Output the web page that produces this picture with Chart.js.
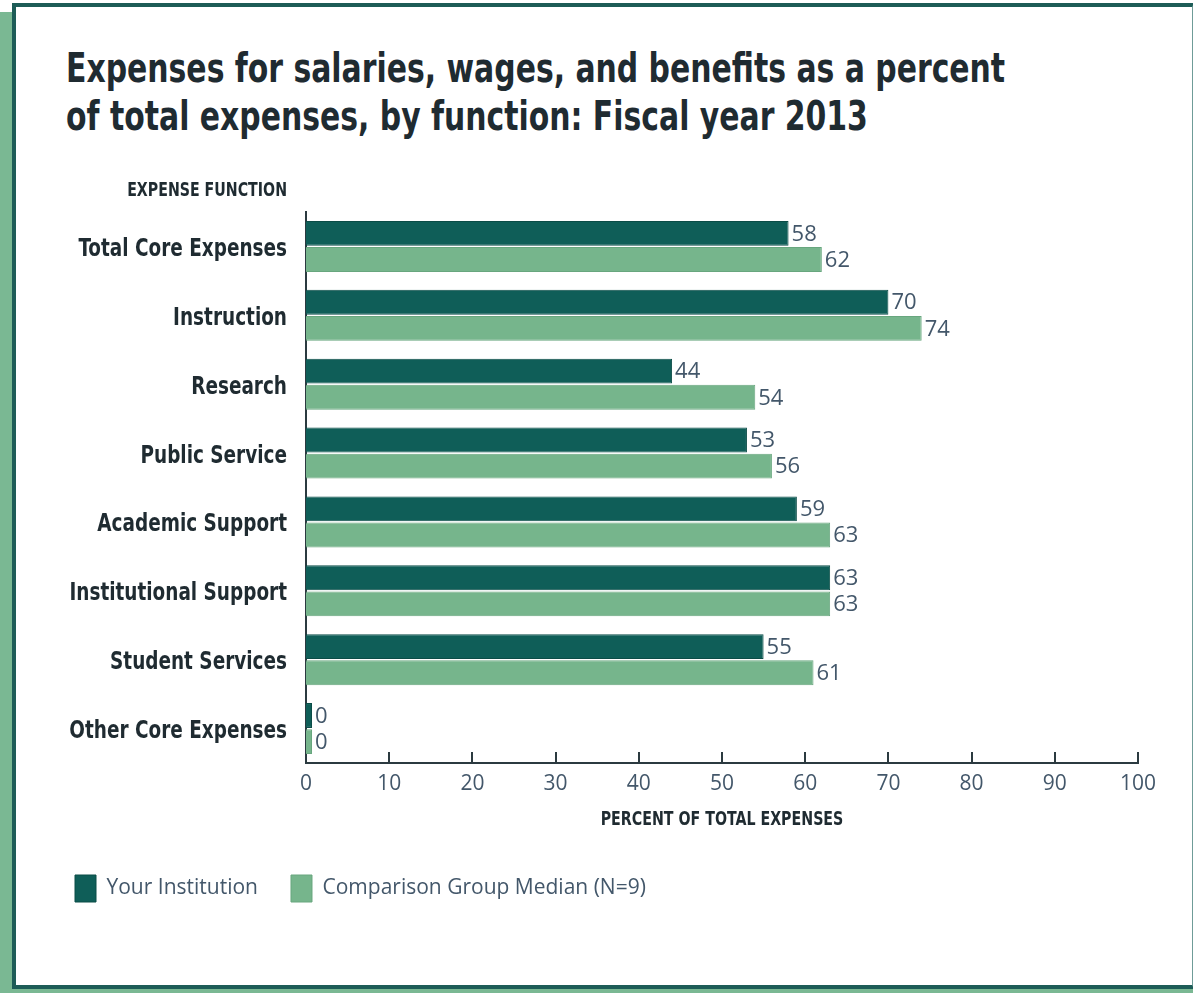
<!DOCTYPE html>
<html>
<head>
<meta charset="utf-8">
<script src="https://cdn.jsdelivr.net/npm/chart.js@4"></script>
<style>
  html, body { margin: 0; padding: 0; background: #fff; }
  #wrap { position: relative; width: 1193px; height: 993px; overflow: hidden; }
  .shadowL { position: absolute; left: 0; top: 12px; width: 13px; height: 981px; background: #7ab893; }
  .shadowB { position: absolute; left: 0; top: 985px; width: 1193px; height: 8px; background: #7ab893; }
  .frame { position: absolute; left: 12px; top: 3px; width: 1176px; height: 978px;
           border-left: 4px solid #1d5c57; border-top: 4px solid #1d5c57; border-bottom: 4px solid #1d5c57;
           border-right: 2px solid #6f9c98; background: #fff; }
  h1 { position: absolute; left: 66px; top: 44px; margin: 0; font-family: "DejaVu Sans Condensed", sans-serif;
       font-weight: bold; font-size: 40px; line-height: 48px; color: #1f2b31; white-space: nowrap;
       transform: scaleX(0.83); transform-origin: 0 0; }
  canvas { position: absolute; left: 0; top: 0; }
</style>
</head>
<body>
<div id="wrap">
  <div class="shadowL"></div>
  <div class="shadowB"></div>
  <div class="frame"></div>
  <h1>Expenses for salaries, wages, and benefits as a percent<br>of total expenses, by function: Fiscal year 2013</h1>
  <canvas id="chart" width="1193" height="993"></canvas>
</div>
<script>
const categories = ["Total Core Expenses", "Instruction", "Research", "Public Service",
  "Academic Support", "Institutional Support", "Student Services", "Other Core Expenses"];
const yourInstitution = [58, 70, 44, 53, 59, 63, 55, 0];
const comparisonMedian = [62, 74, 54, 56, 63, 63, 61, 0];
const xTicks = [0, 10, 20, 30, 40, 50, 60, 70, 80, 90, 100];

const narrow = '"DejaVu Sans Condensed", sans-serif';
const plain = '"Open Sans", sans-serif';
const inkDark = "#1f2b31";
const inkSoft = "#43576a";

// condensed bold text: squeeze DejaVu Condensed horizontally
function squeezed(ctx, text, x, y, sx) {
  ctx.save();
  ctx.translate(x, y);
  ctx.scale(sx, 1);
  ctx.fillText(text, 0, 0);
  ctx.restore();
}

// value labels at bar ends, category labels, headings, upward tick marks
const extras = {
  id: "extras",
  afterDatasetsDraw(chart) {
    const ctx = chart.ctx;
    ctx.save();
    ctx.font = "22px " + plain;
    ctx.fillStyle = inkSoft;
    ctx.textBaseline = "middle";
    ctx.textAlign = "left";
    chart.data.datasets.forEach((ds, i) => {
      chart.getDatasetMeta(i).data.forEach((bar, j) => {
        ctx.fillText(String(ds.data[j]), bar.x + 3, bar.y + 1);
      });
    });
    ctx.restore();
  },
  afterDraw(chart) {
    const ctx = chart.ctx;
    const x = chart.scales.x, y = chart.scales.y;
    const area = chart.chartArea;
    ctx.save();
    ctx.strokeStyle = "#2b3a40";
    ctx.lineWidth = 2;
    x.ticks.forEach(t => {
      if (t.value === 0) return;
      const px = Math.round(x.getPixelForValue(t.value));
      ctx.beginPath();
      ctx.moveTo(px, area.bottom);
      ctx.lineTo(px, area.bottom - 11);
      ctx.stroke();
    });

    ctx.fillStyle = inkDark;
    ctx.textBaseline = "middle";
    ctx.textAlign = "right";
    ctx.font = "bold 25px " + narrow;
    categories.forEach((c, i) => squeezed(ctx, c, y.right - 19, y.getPixelForTick(i) + 3, 0.82));
    ctx.font = "bold 19px " + narrow;
    squeezed(ctx, "EXPENSE FUNCTION", y.right - 19, 191, 0.83);
    ctx.textAlign = "center";
    ctx.font = "bold 20px " + narrow;
    squeezed(ctx, "PERCENT OF TOTAL EXPENSES", (area.left + area.right) / 2, 820, 0.79);
    ctx.restore();
  }
};

new Chart(document.getElementById("chart"), {
  type: "bar",
  data: {
    labels: categories,
    datasets: [
      { label: "Your Institution", data: yourInstitution, backgroundColor: "#0f5e58",
        borderColor: "#0b4c47", borderWidth: 1, minBarLength: 6 },
      { label: "Comparison Group Median (N=9)", data: comparisonMedian, backgroundColor: "#76b58c",
        borderColor: "#68a67e", borderWidth: 1, minBarLength: 6 }
    ]
  },
  options: {
    indexAxis: "y",
    responsive: false,
    animation: false,
    devicePixelRatio: 1,
    categoryPercentage: 0.76,
    barPercentage: 0.95,
    layout: { padding: { left: 42, right: 55, top: 212, bottom: 81 } },
    scales: {
      x: {
        min: 0, max: 100,
        afterBuildTicks(scale) { scale.ticks = xTicks.map(v => ({ value: v })); },
        afterFit(scale) { scale.height = 79; },
        grid: { display: false, drawTicks: false },
        border: { display: true, color: "#2b3a40", width: 2 },
        ticks: { padding: 8, color: inkSoft, font: { family: plain, size: 21 } }
      },
      y: {
        afterFit(scale) { scale.width = 264; },
        grid: { display: false, drawTicks: false },
        border: { display: true, color: "#2b3a40", width: 2 },
        ticks: { display: false }
      }
    },
    plugins: {
      legend: {
        position: "bottom",
        align: "start",
        labels: { boxWidth: 21, boxHeight: 27, padding: 33, color: inkSoft,
                  font: { family: plain, size: 21 } }
      },
      tooltip: { enabled: false }
    }
  },
  plugins: [extras]
});
</script>
</body>
</html>
